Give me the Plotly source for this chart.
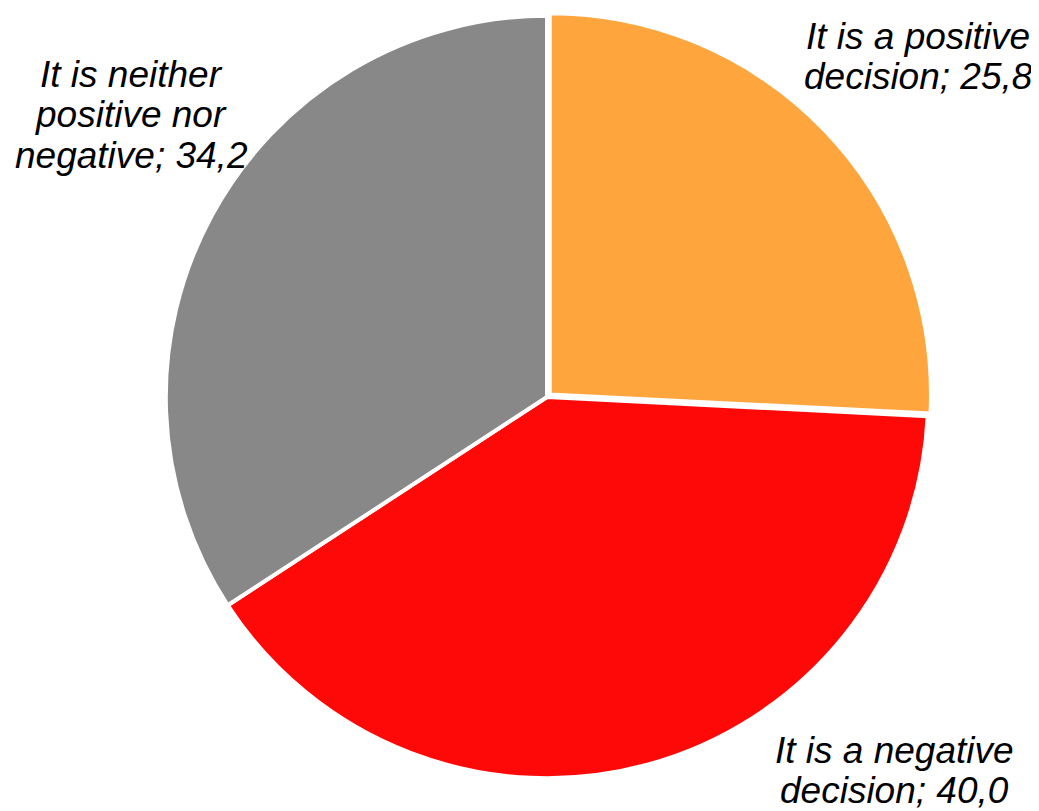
import plotly.graph_objects as go

labels = ["It is a positive decision", "It is a negative decision", "It is neither positive nor negative"]
values = [25.8, 40.0, 34.2]
colors = ["#FFA53D", "#FF0808", "#888888"]
label_lines = [["It is a positive", "decision"], ["It is a negative", "decision"], ["It is neither", "positive nor", "negative"]]
label_pos = [(910, 29), (886, 742), (123, 67)]
LINE_STEP = 40

W, H = 1039, 811

fig = go.Figure(go.Pie(
    labels=labels, values=values, sort=False, direction="clockwise", rotation=0,
    marker=dict(colors=colors, line=dict(color="white", width=4)),
    textinfo="none", hoverinfo="label+value", showlegend=False,
    pull=[0.01, 0, 0],
    domain=dict(x=[154 / W, 924 / W], y=[1 - 774 / H, 1 - 4 / H]),
))

for lines, v, (px, py) in zip(label_lines, values, label_pos):
    full = lines[:-1] + [lines[-1] + "; " + f"{v:.1f}".replace(".", ",")]
    for i, ln in enumerate(full):
        fig.add_annotation(x=px / W, y=1 - (py + i * LINE_STEP) / H, xref="paper", yref="paper",
                           text=ln, showarrow=False, align="center",
                           xanchor="center", yanchor="middle",
                           font=dict(family="Liberation Sans, Arial", size=37, color="black", style="italic"))

fig.update_layout(width=W, height=H, margin=dict(l=0, r=0, t=0, b=0),
                  paper_bgcolor="white", plot_bgcolor="white")
fig.write_html("out.html")
